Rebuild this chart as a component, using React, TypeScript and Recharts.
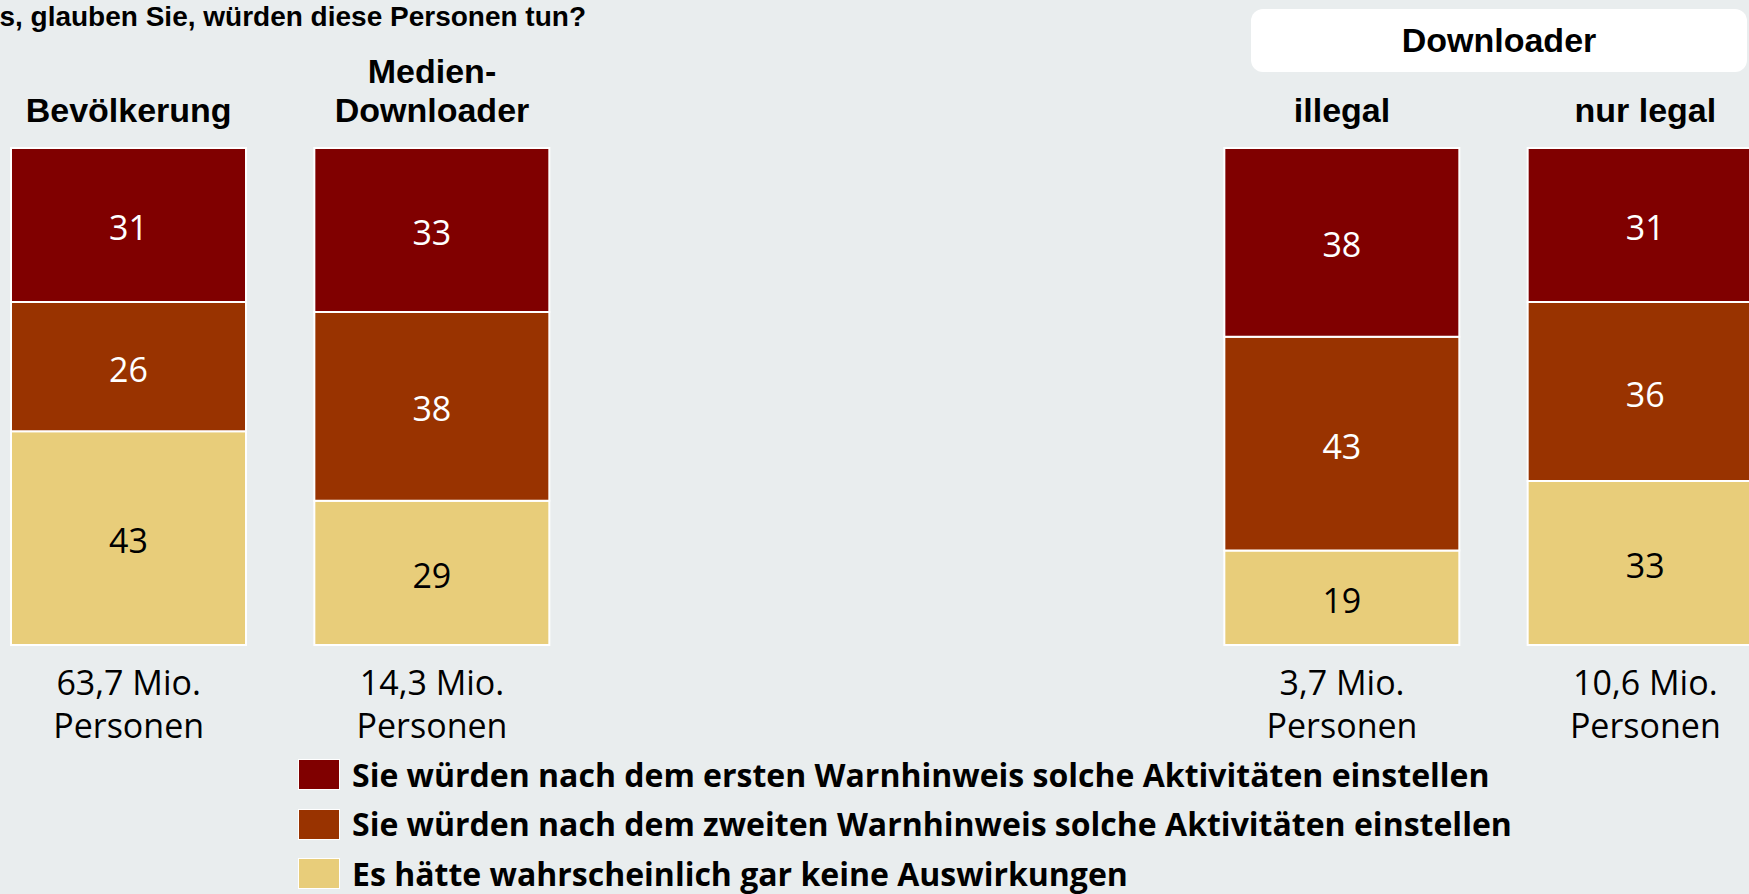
import React from 'react';
import { BarChart, Bar, XAxis, YAxis, LabelList, Legend } from 'recharts';

// six slots on the category axis, the middle two stay empty
const groupKeys = ['bev', 'med', 'gap1', 'gap2', 'ill', 'leg'];
const headLines = [['Bevölkerung'], ['Medien-', 'Downloader'], [], [], ['illegal'], ['nur legal']];
const populations = ['63,7 Mio.', '14,3 Mio.', '', '', '3,7 Mio.', '10,6 Mio.'];

const firstWarning = [31, 33, null, null, 38, 31];
const secondWarning = [26, 38, null, null, 43, 36];
const noEffect = [43, 29, null, null, 19, 33];

const seriesNames = [
  'Sie würden nach dem ersten Warnhinweis solche Aktivitäten einstellen',
  'Sie würden nach dem zweiten Warnhinweis solche Aktivitäten einstellen',
  'Es hätte wahrscheinlich gar keine Auswirkungen',
];
const seriesColors = ['#800000', '#993300', '#e8cd7a'];

const data = groupKeys.map((key, i) => ({
  key,
  first: firstWarning[i],
  second: secondWarning[i],
  none: noEffect[i],
}));

const BG = '#e9edee';
const HEAD_FONT = '"Liberation Sans", Arial, sans-serif';
const BODY_FONT = '"Open Sans", "Noto Sans", sans-serif';

const TopTick = (props: any) => {
  const { x, y, index } = props;
  const lines = headLines[index] || [];
  return (
    <g>
      {lines.map((line, i) => (
        <text
          key={i}
          x={x}
          y={y - 26 - (lines.length - 1 - i) * 39}
          textAnchor="middle"
          fontFamily={HEAD_FONT}
          fontWeight="bold"
          fontSize={34}
          fill="#000"
        >
          {line}
        </text>
      ))}
    </g>
  );
};

const BottomTick = (props: any) => {
  const { x, y, index } = props;
  if (!populations[index]) return null;
  return (
    <g fontFamily={BODY_FONT} fontSize={34} fill="#000">
      <text x={x} y={y + 50} textAnchor="middle">{populations[index]}</text>
      <text x={x} y={y + 93} textAnchor="middle">Personen</text>
    </g>
  );
};

const valueLabel = (color: string) => (props: any) => {
  const { x, y, width, height, value } = props;
  if (value == null) return null;
  return (
    <text
      x={x + width / 2}
      y={y + height / 2}
      dy={15}
      textAnchor="middle"
      fontFamily={BODY_FONT}
      fontSize={34}
      fill={color}
    >
      {value}
    </text>
  );
};

const renderLegend = () => (
  <div style={{ fontFamily: BODY_FONT, fontWeight: 700, fontSize: 32, color: '#000' }}>
    {seriesNames.map((name, i) => (
      <div key={i} style={{ display: 'flex', alignItems: 'center', height: 49.5 }}>
        <span
          style={{
            display: 'inline-block',
            flex: 'none',
            width: 40,
            height: 29,
            background: seriesColors[i],
            border: '1px solid #fff',
            marginRight: 12,
          }}
        />
        <span style={{ whiteSpace: 'nowrap', lineHeight: '40px' }}>{name}</span>
      </div>
    ))}
  </div>
);

const App = () => {
  return (
    <div
      style={{
        position: 'fixed',
        left: 0,
        top: 0,
        width: 1749,
        height: 894,
        overflow: 'hidden',
        background: BG,
      }}
    >
      <div
        style={{
          position: 'absolute',
          right: 1749 - 586,
          top: 1,
          whiteSpace: 'nowrap',
          fontFamily: HEAD_FONT,
          fontWeight: 'bold',
          fontSize: 28,
          lineHeight: '32px',
        }}
      >
        Was, glauben Sie, würden diese Personen tun?
      </div>
      <div
        style={{
          position: 'absolute',
          left: 1251,
          top: 9,
          width: 496,
          height: 63,
          background: '#fff',
          borderRadius: 12,
          display: 'flex',
          alignItems: 'center',
          justifyContent: 'center',
          fontFamily: HEAD_FONT,
          fontWeight: 'bold',
          fontSize: 34,
        }}
      >
        Downloader
      </div>
      <div style={{ position: 'absolute', left: -23.5, top: 0 }}>
        <BarChart
          width={1820}
          height={894}
          data={data}
          barSize={235}
          margin={{ top: 48, right: 0, bottom: 129, left: 0 }}
        >
          <XAxis
            xAxisId="top"
            dataKey="key"
            orientation="top"
            height={100}
            axisLine={false}
            tickLine={false}
            tickSize={0}
            tickMargin={0}
            interval={0}
            tick={<TopTick />}
          />
          <XAxis
            dataKey="key"
            height={120}
            axisLine={false}
            tickLine={false}
            tickSize={0}
            tickMargin={0}
            interval={0}
            tick={<BottomTick />}
          />
          <YAxis hide domain={[0, 100]} />
          <Legend
            layout="vertical"
            align="center"
            verticalAlign="middle"
            content={renderLegend}
            wrapperStyle={{ left: 321.5, top: 750, width: 1300 }}
          />
          <Bar dataKey="none" stackId="a" fill={seriesColors[2]} stroke="#fff" strokeWidth={2} isAnimationActive={false}>
            <LabelList dataKey="none" content={valueLabel('#000')} />
          </Bar>
          <Bar dataKey="second" stackId="a" fill={seriesColors[1]} stroke="#fff" strokeWidth={2} isAnimationActive={false}>
            <LabelList dataKey="second" content={valueLabel('#fff')} />
          </Bar>
          <Bar dataKey="first" stackId="a" fill={seriesColors[0]} stroke="#fff" strokeWidth={2} isAnimationActive={false}>
            <LabelList dataKey="first" content={valueLabel('#fff')} />
          </Bar>
        </BarChart>
      </div>
    </div>
  );
};

export default App;
